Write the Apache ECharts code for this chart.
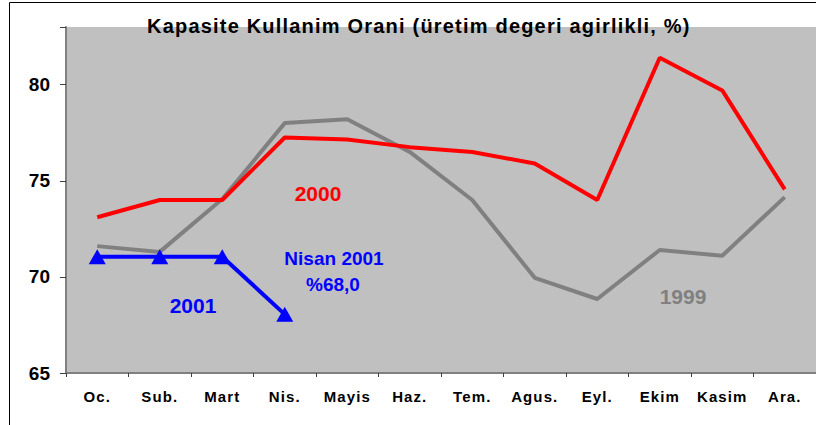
<!DOCTYPE html>
<html>
<head>
<meta charset="utf-8">
<script src="https://cdn.jsdelivr.net/npm/echarts@6/dist/echarts.min.js"></script>
<style>
html,body{margin:0;padding:0;background:#fff;}
#chart{width:816px;height:425px;}
#chart text[style*="20px"]{letter-spacing:1.2px;}
#chart text[style*="15px"]{letter-spacing:1.1px;}
</style>
</head>
<body>
<div id="chart"></div>
<script>
const categories = ['Oc.', 'Sub.', 'Mart', 'Nis.', 'Mayis', 'Haz.', 'Tem.', 'Agus.', 'Eyl.', 'Ekim', 'Kasim', 'Ara.'];
const series1999 = [71.6, 71.3, 74.05, 78.0, 78.2, 76.5, 74.0, 69.95, 68.85, 71.4, 71.1, 74.15];
const series2000 = [73.1, 74.0, 74.0, 77.25, 77.15, 76.75, 76.5, 75.9, 74.0, 81.4, 79.7, 74.55];
const series2001 = [71.05, 71.05, 71.05, 68.05, null, null, null, null, null, null, null, null];
const yTicks = [65, 70, 75, 80];

const chart = echarts.init(document.getElementById('chart'), null, {renderer: 'svg'});
const font = 'Liberation Sans, Arial, sans-serif';
chart.setOption({
  animation: false,
  title: {
    text: 'Kapasite Kullanim Orani (üretim degeri agirlikli, %)',
    left: 147, top: 16, padding: 0,
    textStyle: {fontFamily: font, fontSize: 20, fontWeight: 'bold', color: '#000'}
  },
  grid: {left: 66, top: 27, right: -8, bottom: 52, show: true, backgroundColor: '#C0C0C0', borderWidth: 0},
  xAxis: {
    type: 'category', data: categories, boundaryGap: true,
    axisLine: {lineStyle: {color: '#808080', width: 2}},
    axisTick: {show: true, length: 4, lineStyle: {color: '#404040'}},
    axisLabel: {fontFamily: font, fontSize: 15, fontWeight: 'bold', color: '#000', margin: 16}
  },
  yAxis: {
    type: 'value', min: 65, max: 83, interval: 5,
    axisLine: {show: true, lineStyle: {color: '#808080', width: 2}},
    axisTick: {show: true, length: 6, lineStyle: {color: '#404040'}},
    splitLine: {show: false},
    axisLabel: {fontFamily: font, fontSize: 19, fontWeight: 'bold', color: '#000', margin: 16,
      formatter: v => yTicks.includes(v) ? String(v) : ''}
  },
  series: [
    {name: '1999', type: 'line', data: series1999, symbol: 'none', lineStyle: {color: '#808080', width: 4}, z: 2},
    {name: '2000', type: 'line', data: series2000, symbol: 'none', lineStyle: {color: '#FF0000', width: 4}, z: 3},
    {name: '2001', type: 'line', data: series2001, symbol: 'triangle', symbolSize: [17, 15], connectNulls: false,
      itemStyle: {color: '#0000FF'}, lineStyle: {color: '#0000FF', width: 4}, z: 4}
  ],
  graphic: [
    {type: 'rect', shape: {x: 9.5, y: 2.5, width: 900, height: 500}, style: {fill: 'none', stroke: '#000', lineWidth: 1}, z: 100},
    {type: 'text', x: 318, y: 193, style: {text: '2000', fill: '#FF0000', font: 'bold 21px ' + font, textAlign: 'center', textVerticalAlign: 'middle'}, z: 100},
    {type: 'text', x: 334, y: 258, style: {text: 'Nisan 2001', fill: '#0000FF', font: 'bold 19px ' + font, textAlign: 'center', textVerticalAlign: 'middle'}, z: 100},
    {type: 'text', x: 333, y: 284, style: {text: '%68,0', fill: '#0000FF', font: 'bold 19px ' + font, textAlign: 'center', textVerticalAlign: 'middle'}, z: 100},
    {type: 'text', x: 193, y: 305, style: {text: '2001', fill: '#0000FF', font: 'bold 21px ' + font, textAlign: 'center', textVerticalAlign: 'middle'}, z: 100},
    {type: 'text', x: 683, y: 296, style: {text: '1999', fill: '#808080', font: 'bold 21px ' + font, textAlign: 'center', textVerticalAlign: 'middle'}, z: 100}
  ]
});
</script>
</body>
</html>
